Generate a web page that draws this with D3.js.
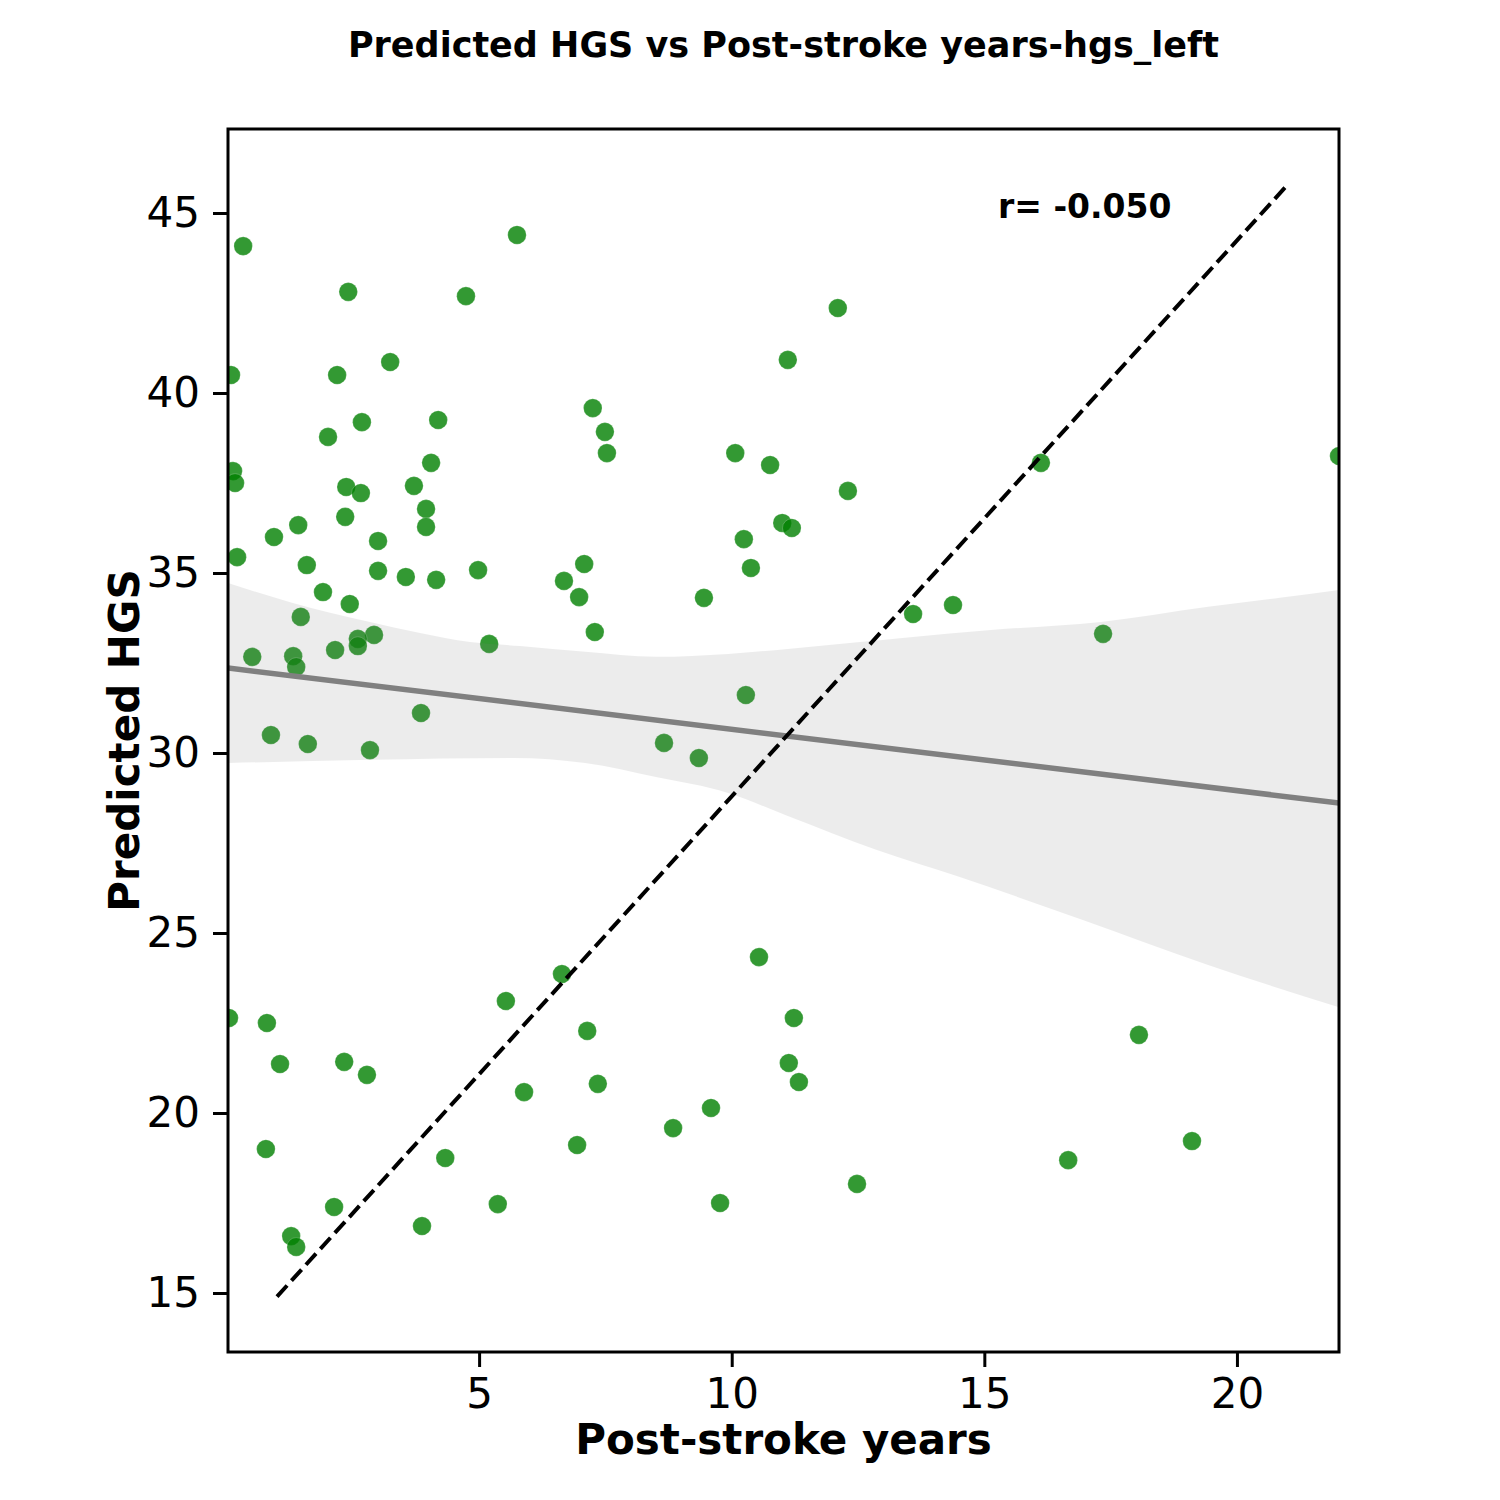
<!DOCTYPE html>
<html>
<head>
<meta charset="utf-8">
<script src="https://cdn.jsdelivr.net/npm/d3@7"></script>
<style>
  html, body { margin: 0; padding: 0; background: #fff; }
  svg { display: block; font-family: "DejaVu Sans", sans-serif; }
</style>
</head>
<body>
<svg id="chart" width="1500" height="1500"></svg>
<script>
// ---- data ----
const titleText = "Predicted HGS vs Post-stroke years-hgs_left";
const xLabel = "Post-stroke years";
const yLabel = "Predicted HGS";
const rText = "r= -0.050";

const xTicks = [5, 10, 15, 20];
const yTicks = [15, 20, 25, 30, 35, 40, 45];

const postStrokeYears = [
  0.33, 5.75, 2.41, 4.74, 12.10, 3.24, 11.11, 0.09, 2.19, 7.25,
  2.68, 4.19, 2.01, 7.49, 10.07, 7.53, 22.02, 4.05, 10.76, 16.12,
  0.13, 0.17, 3.71, 2.37, 2.66, 12.30, 3.95, 2.35, 11.00, 11.19,
  3.95, 1.42, 0.94, 3.00, 10.24, 0.21, 1.59, 7.08, 4.98, 3.00,
  10.38, 3.55, 4.15, 6.68, 1.91, 6.98, 9.45, 2.44, 14.38, 13.59,
  1.47, 17.35, 7.29, 2.92, 2.60, 5.20, 2.60, 2.15, 1.32, 0.51,
  1.38, 10.28, 3.85, 0.88, 8.66, 1.61, 2.84, 9.35, 10.54, 6.64,
  0.05, 11.23, 0.80, 7.14, 18.06, 5.53, 1.06, 2.33, 11.13, 2.78,
  7.35, 11.33, 5.89, 9.59, 0.78, 6.94, 19.11, 8.84, 4.33, 16.66,
  12.48, 2.13, 5.37, 9.77, 3.87, 1.28, 1.38
];
const predictedHGS = [
  44.08, 44.39, 42.81, 42.69, 42.36, 40.86, 40.92, 40.50, 40.50, 39.58,
  39.19, 39.25, 38.78, 38.92, 38.33, 38.33, 38.25, 38.06, 38.00, 38.06,
  37.83, 37.50, 37.42, 37.39, 37.22, 37.28, 36.78, 36.56, 36.39, 36.25,
  36.28, 36.33, 36.00, 35.89, 35.94, 35.44, 35.22, 35.25, 35.08, 35.06,
  35.14, 34.89, 34.81, 34.78, 34.47, 34.33, 34.31, 34.14, 34.11, 33.86,
  33.78, 33.31, 33.36, 33.28, 33.17, 33.03, 32.97, 32.86, 32.69, 32.67,
  32.39, 31.61, 31.11, 30.50, 30.28, 30.25, 30.08, 29.86, 24.33, 23.86,
  22.64, 22.64, 22.50, 22.28, 22.17, 23.11, 21.36, 21.42, 21.39, 21.06,
  20.81, 20.86, 20.58, 20.14, 19.00, 19.11, 19.22, 19.58, 18.75, 18.69,
  18.03, 17.39, 17.47, 17.50, 16.86, 16.58, 16.28
];

// regression line and its confidence band
const regX = [0.03, 22.02];
const regY = [32.36, 28.61];
const bandUpperX = [0.03, 1.26, 2.84, 3.83, 4.82, 5.81, 7.10, 8.50, 9.93, 11.11, 12.54, 13.33, 15.19, 17.31, 19.43, 20.85, 22.02];
const bandUpperY = [34.72, 34.19, 33.64, 33.33, 33.08, 32.97, 32.81, 32.67, 32.75, 32.89, 33.08, 33.19, 33.42, 33.64, 34.06, 34.31, 34.53];
const bandLowerX = [0.03, 2.86, 5.69, 7.10, 8.50, 9.93, 11.11, 12.86, 14.50, 16.95, 19.43, 22.02];
const bandLowerY = [29.72, 29.81, 29.86, 29.72, 29.33, 28.89, 28.25, 27.31, 26.56, 25.36, 24.11, 22.94];

// dashed reference line
const refX = [1.0, 21.0];
const refY = [14.90, 45.78];

// ---- layout ----
const plot = { left: 228, right: 1339, top: 129, bottom: 1352 };
const svg = d3.select("#chart");

const x = d3.scaleLinear().domain([0.03, 22.02]).range([plot.left, plot.right]);
const y = d3.scaleLinear().domain([13.361, 47.333]).range([plot.bottom, plot.top]);

svg.append("defs").append("clipPath").attr("id", "clip")
  .append("rect")
  .attr("x", plot.left).attr("y", plot.top)
  .attr("width", plot.right - plot.left).attr("height", plot.bottom - plot.top);

const g = svg.append("g").attr("clip-path", "url(#clip)");

// points
const pts = postStrokeYears.map((v, i) => ({ x: v, y: predictedHGS[i] }));
g.selectAll("circle.pt").data(pts).enter().append("circle")
  .attr("class", "pt")
  .attr("cx", d => x(d.x))
  .attr("cy", d => y(d.y))
  .attr("r", 9.3)
  .attr("fill", "#008000")
  .attr("fill-opacity", 0.8)
  .attr("stroke", "#ffffff")
  .attr("stroke-opacity", 0.35)
  .attr("stroke-width", 0.6);

// confidence band
const area = d3.area()
  .x(d => x(d[0]))
  .y0(d => y(d[1]))
  .y1(d => y(d[2]))
  .curve(d3.curveMonotoneX);
// sample both edges on the union of x positions via linear lookup of read values
const lowerAt = v => {
  for (let i = 0; i < bandLowerX.length - 1; i++) {
    if (v <= bandLowerX[i + 1]) {
      const t = (v - bandLowerX[i]) / (bandLowerX[i + 1] - bandLowerX[i]);
      return bandLowerY[i] + t * (bandLowerY[i + 1] - bandLowerY[i]);
    }
  }
  return bandLowerY[bandLowerY.length - 1];
};
const upperAt = v => {
  for (let i = 0; i < bandUpperX.length - 1; i++) {
    if (v <= bandUpperX[i + 1]) {
      const t = (v - bandUpperX[i]) / (bandUpperX[i + 1] - bandUpperX[i]);
      return bandUpperY[i] + t * (bandUpperY[i + 1] - bandUpperY[i]);
    }
  }
  return bandUpperY[bandUpperY.length - 1];
};
const upperPath = d3.line().x(d => x(d[0])).y(d => y(d[1])).curve(d3.curveMonotoneX);
const upperPts = bandUpperX.map((v, i) => [v, bandUpperY[i]]);
const lowerPts = bandLowerX.map((v, i) => [v, bandLowerY[i]]).reverse();
const lowerPath = d3.line().x(d => x(d[0])).y(d => y(d[1])).curve(d3.curveMonotoneX);
const upD = upperPath(upperPts);
const loD = lowerPath(lowerPts).replace(/^M/, "L");
g.append("path")
  .attr("d", upD + loD + "Z")
  .attr("fill", "#808080")
  .attr("fill-opacity", 0.15)
  .attr("stroke", "none");

// regression line
g.append("path")
  .datum(regX.map((v, i) => [v, regY[i]]))
  .attr("d", d3.line().x(d => x(d[0])).y(d => y(d[1])))
  .attr("fill", "none")
  .attr("stroke", "#808080")
  .attr("stroke-width", 5.5);

// dashed reference line
g.append("path")
  .datum(refX.map((v, i) => [v, refY[i]]))
  .attr("d", d3.line().x(d => x(d[0])).y(d => y(d[1])))
  .attr("fill", "none")
  .attr("stroke", "#000")
  .attr("stroke-width", 4)
  .attr("stroke-dasharray", "15,6.5");

// axes
const xAxis = d3.axisBottom(x).tickValues(xTicks).tickSize(15).tickPadding(11).tickSizeOuter(0);
const yAxis = d3.axisLeft(y).tickValues(yTicks).tickSize(15).tickPadding(13).tickSizeOuter(0);

const gx = svg.append("g").attr("transform", `translate(0,${plot.bottom})`).call(xAxis);
const gy = svg.append("g").attr("transform", `translate(${plot.left},0)`).call(yAxis);
[gx, gy].forEach(a => {
  a.select(".domain").remove();
  a.selectAll(".tick line").attr("stroke", "#000").attr("stroke-width", 3);
  a.selectAll(".tick text").attr("fill", "#000")
    .style("font-family", "'DejaVu Sans', sans-serif").style("font-size", "42px");
});

// frame
svg.append("rect")
  .attr("x", plot.left).attr("y", plot.top)
  .attr("width", plot.right - plot.left).attr("height", plot.bottom - plot.top)
  .attr("fill", "none").attr("stroke", "#000").attr("stroke-width", 3);

// texts
svg.append("text")
  .attr("x", (plot.left + plot.right) / 2).attr("y", 57)
  .attr("text-anchor", "middle")
  .style("font-size", "35px").style("font-weight", "bold")
  .text(titleText);

svg.append("text")
  .attr("x", (plot.left + plot.right) / 2).attr("y", 1454)
  .attr("text-anchor", "middle")
  .style("font-size", "42px").style("font-weight", "bold")
  .text(xLabel);

svg.append("text")
  .attr("transform", `translate(139,${(plot.top + plot.bottom) / 2}) rotate(-90)`)
  .attr("text-anchor", "middle")
  .style("font-size", "42px").style("font-weight", "bold")
  .text(yLabel);

svg.append("text")
  .attr("x", 998).attr("y", 218)
  .attr("text-anchor", "start")
  .style("font-size", "33px").style("font-weight", "bold")
  .text(rText);
</script>
</body>
</html>
